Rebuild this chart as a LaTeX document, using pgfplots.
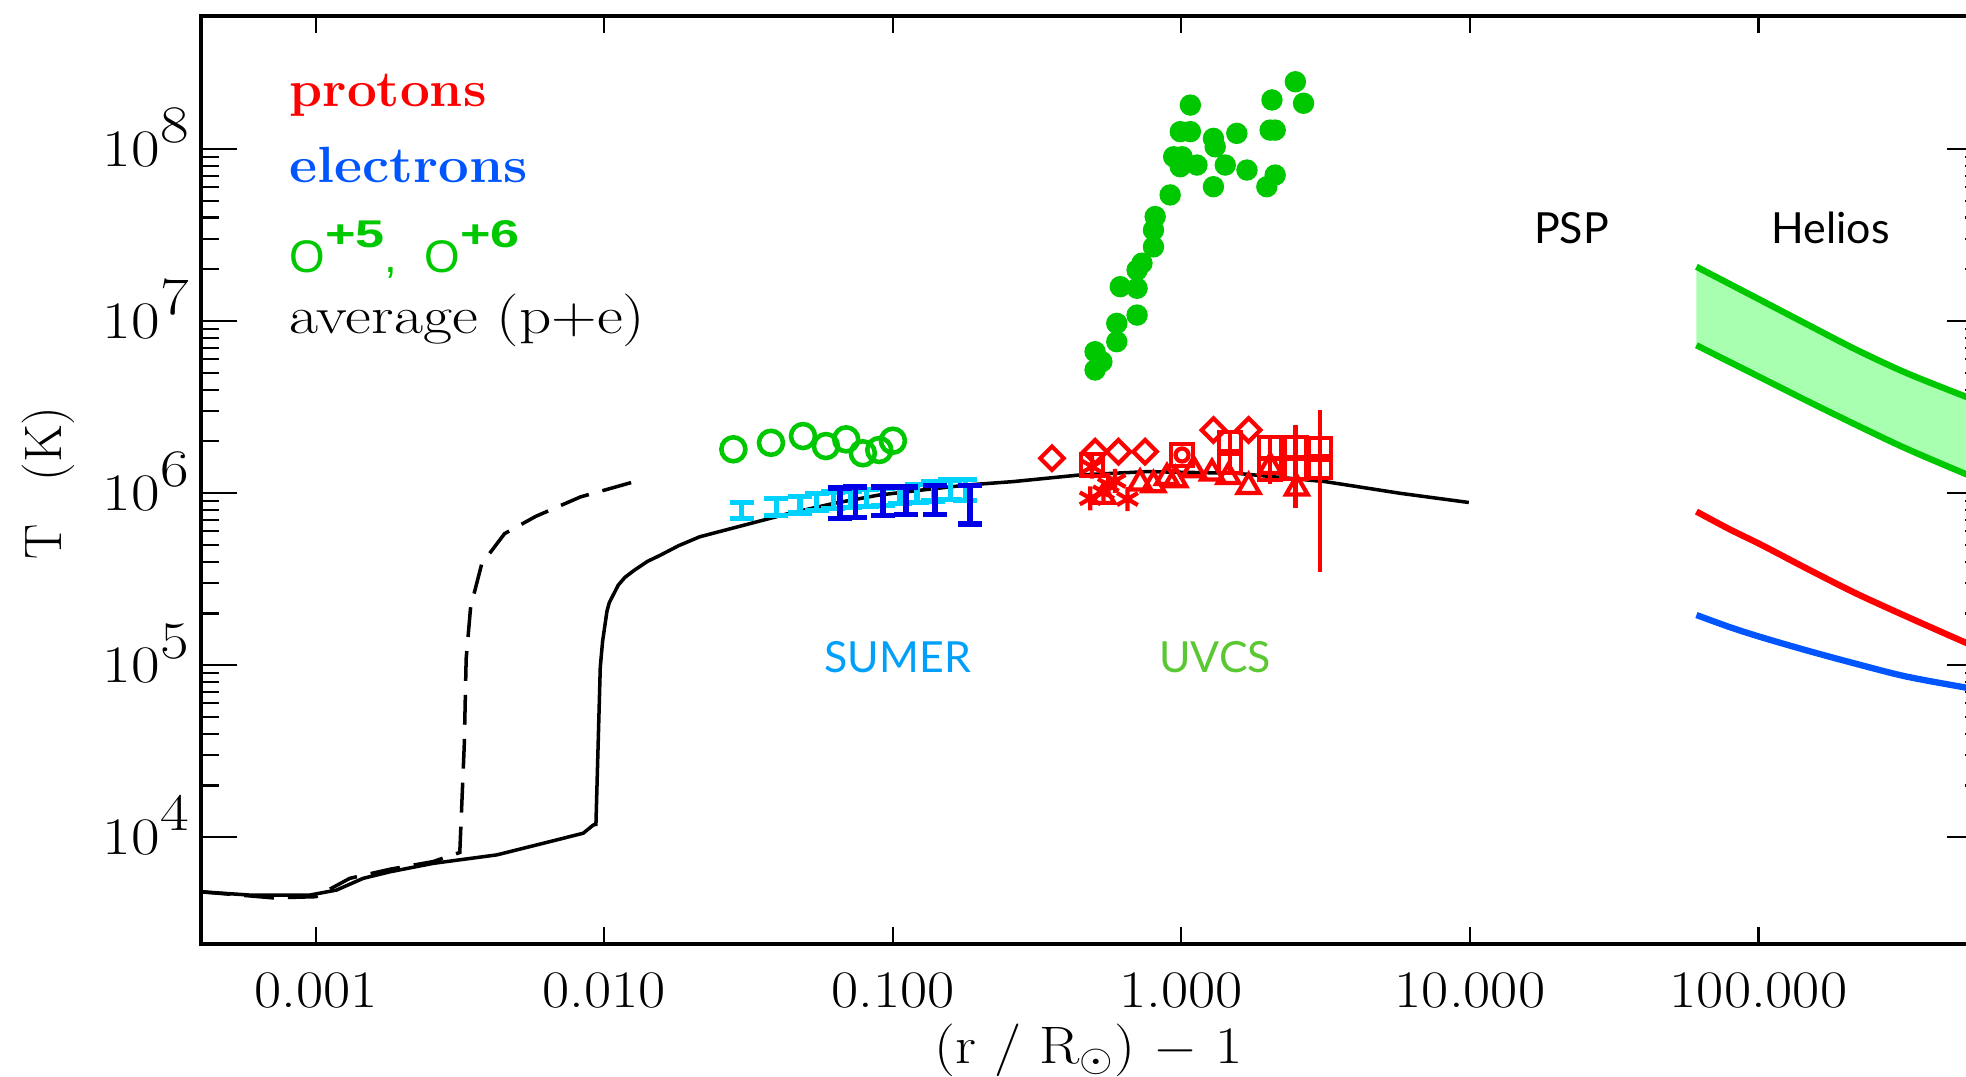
\documentclass[border=0pt]{standalone}
\usepackage{graphicx}
\usepackage{pgfplots}
\pgfplotsset{compat=1.18}
\usepgfplotslibrary{fillbetween}
\usepackage{fontspec}
\newfontfamily\lato{Lato}
\newfontfamily\arialf{Liberation Sans}
\definecolor{pred}{RGB}{255,0,0}
\definecolor{eblue}{RGB}{0,85,255}
\definecolor{ogreen}{RGB}{0,200,0}
\definecolor{cyanbar}{RGB}{0,210,255}
\definecolor{dblue}{RGB}{0,0,230}
\definecolor{bandgreen}{RGB}{168,255,176}
\definecolor{sumerc}{RGB}{0,160,250}
\definecolor{uvcsc}{RGB}{90,200,50}
\newcommand{\xs}[1]{\scalebox{1.12}[1]{#1}}
\newcommand{\ys}[1]{\scalebox{1.18}[1]{10\raisebox{0.24cm}{#1}}}
\begin{document}
\begin{tikzpicture}
\begin{axis}[
  at={(0,0)}, anchor=south west,
  scale only axis, width=17.82cm, height=9.28cm,
  xmode=log, ymode=log,
  xmin=4e-4, xmax=600, ymin=2400, ymax=5.93e8,
  xtick={0.001,0.01,0.1,1,10,100},
  xticklabels={\xs{0.001},\xs{0.010},\xs{0.100},\xs{1.000},\xs{10.000},\xs{100.000}},
  ytick={1e4,1e5,1e6,1e7,1e8},
  yticklabels={\ys{4},\ys{5},\ys{6},\ys{7},\ys{8}},
  xminorticks=false,
  major tick length=0.36cm, minor tick length=0.18cm,
  xtick style={/pgfplots/major tick length=0.17cm},
  tick style={line width=0.6pt, black},
  axis line style={line width=0.9pt},
  tick label style={font=\fontsize{15}{18}\selectfont},
  xticklabel style={yshift=-0.16cm},
  yticklabel style={yshift=0.12cm},
  xlabel={\scalebox{1.12}[1]{(r / R$_\odot$) $-$ 1}},
  ylabel={T\enspace\ (K)},
  label style={font=\fontsize{15}{18}\selectfont},
  xlabel style={at={(axis description cs:0.498,-0.115)}, anchor=center},
  ylabel style={at={(axis description cs:-0.0859,0.497)}, anchor=center},
  clip=true,
]
% average (p+e) dashed model
\addplot[black, line width=1pt, dash pattern=on 8.5pt off 4pt] table {
x y
3.98e-4 4830
7.10e-4 4450
1.0e-3 4520
1.312e-3 5780
1.81e-3 6530
2.55e-3 7230
3.155e-3 8170
3.27e-3 34500
3.32e-3 109400
3.44e-3 218000
3.76e-3 389000
4.51e-3 582000
5.78e-3 733000
8.26e-3 951000
1.265e-2 1164000
};
% average (p+e) solid model
\addplot[black, line width=1pt] table {
x y
3.98e-4 4830
5.90e-4 4620
9.53e-4 4620
1.18e-3 4940
1.46e-3 5780
1.81e-3 6310
2.55e-3 7060
4.24e-3 7910
6.47e-3 9440
8.45e-3 10570
9.16e-3 11800
9.35e-3 11900
9.68e-3 97500
9.86e-3 137700
1.021e-2 206000
1.040e-2 231000
1.117e-2 292000
1.178e-2 324000
1.268e-2 356000
1.409e-2 401000
1.567e-2 437000
1.807e-2 495000
2.14e-2 558000
3.06e-2 653000
4.38e-2 764000
6.25e-2 873000
8.93e-2 975000
0.1274 1045000
0.182 1117000
0.260 1167000
0.444 1276000
0.757 1334000
1.545 1306000
3.155 1167000
5.74 998000
9.91 883000
};
% SUMER electrons (cyan)
\addplot[draw=none, mark=none, error bars/.cd, y dir=both, y explicit relative,
  error bar style={draw=cyanbar, line width=1.5pt},
  error mark options={rotate=90, mark size=0.12cm, line width=1.5pt, draw=cyanbar}]
  table[x=x, y=y, y error=e] {
x y e
0.0299 798000 0.11
0.0395 836000 0.11
0.0476 861000 0.11
0.0545 893000 0.11
0.0622 914000 0.11
0.0711 927000 0.11
0.0811 942000 0.11
0.0927 955000 0.11
0.1059 977000 0.11
0.1211 1007000 0.12
0.138 1035000 0.13
0.158 1054000 0.13
0.178 1054000 0.14
};
% SUMER electrons (dark blue)
\addplot[draw=none, mark=none, error bars/.cd, y dir=both, y explicit relative,
  error bar style={draw=dblue, line width=1.5pt},
  error mark options={rotate=90, mark size=0.12cm, line width=1.5pt, draw=dblue}]
  table[x=x, y=y, y error=e] {
x y e
0.0656 893000 0.2
0.0740 905000 0.2
0.0925 912000 0.19
0.111 920000 0.18
0.140 927000 0.19
0.185 883000 0.25
};
% SUMER O ions (open circles)
\addplot[only marks, mark=o, mark size=0.12cm, ogreen, mark options={line width=1.3pt}] table {
x y
0.0280 1.80e6
0.0378 1.963e6
0.0488 2.148e6
0.0586 1.879e6
0.0689 2.056e6
0.0787 1.706e6
0.0897 1.782e6
0.1000 2.018e6
};
% UVCS O ions (filled circles)
\addplot[only marks, mark=*, mark size=0.1cm, ogreen, mark options={draw=ogreen, fill=ogreen}] table {
x y
0.502 5.20e6
0.502 6.64e6
0.530 5.81e6
0.597 7.59e6
0.597 9.70e6
0.702 1.084e7
0.614 1.585e7
0.702 1.552e7
0.702 1.98e7
0.730 2.17e7
0.800 2.70e7
0.800 3.38e7
0.811 4.05e7
0.914 5.41e7
0.991 7.89e7
1.005 9.02e7
0.940 9.02e7
0.991 1.262e8
1.074 1.262e8
1.074 1.80e8
1.132 8.07e7
1.291 1.153e8
1.309 1.030e8
1.291 6.04e7
1.419 8.07e7
1.556 1.233e8
1.687 7.55e7
1.977 6.04e7
2.113 7.06e7
2.06 1.928e8
2.03 1.288e8
2.113 1.288e8
2.483 2.46e8
2.65 1.845e8
};
% UVCS protons: diamonds
\addplot[only marks, mark=square, mark size=0.083cm, pred, mark options={rotate=45, line width=1.2pt}] table {
x y
0.356 1.596e6
0.502 1.742e6
0.605 1.742e6
0.748 1.742e6
1.291 2.328e6
1.710 2.328e6
};
% UVCS protons: squares
\addplot[only marks, mark=square, mark size=0.11cm, pred, mark options={line width=1.2pt},
  error bars/.cd, y dir=both, y explicit,
  error bar style={line width=1.2pt, draw=pred}, error mark=none]
  table[x=x, y=y, y error plus=ep, y error minus=em] {
x y ep em
0.490 1.459e6 0 0
1.005 1.667e6 0 0
1.476 1.950e6 3.0e5 3.0e5
1.476 1.524e6 2.5e5 2.5e5
2.023 1.837e6 3.0e5 3.0e5
2.023 1.384e6 2.5e5 2.5e5
2.483 1.837e6 0 0
2.483 1.396e6 1.09e6 5.8e5
3.027 1.807e6 1.23e6 1.46e6
3.027 1.426e6 0 0
};
% UVCS protons: triangles
\addplot[only marks, mark=triangle, mark size=0.125cm, pred, mark options={line width=1.2pt}] table {
x y
0.537 9.55e5
0.719 1.143e6
0.800 1.117e6
0.891 1.230e6
0.953 1.194e6
1.102 1.365e6
1.276 1.306e6
1.455 1.247e6
1.710 1.091e6
2.032 1.426e6
2.512 1.069e6
};
% UVCS protons: asterisks
\addplot[only marks, mark=asterisk, mark size=0.12cm, pred, mark options={line width=1.2pt}] table {
x y
0.483 9.33e5
0.537 1.012e6
0.589 1.178e6
0.650 9.25e5
0.558 1.117e6
0.490 1.426e6
};
% UVCS protons: circle
\addplot[only marks, mark=o, mark size=0.065cm, pred, mark options={line width=1.2pt}] table {
x y
1.005 1.667e6
};
% Helios band (O ions)
\addplot[name path=hup, ogreen, line width=1.8pt, smooth] table {
x y
60.95 2.070e7
79.43 1.644e7
102.3 1.318e7
147.9 9.55e6
216.3 6.87e6
324.3 5.01e6
524.8 3.63e6
600 3.35e6
};
\addplot[name path=hlo, ogreen, line width=1.8pt, smooth] table {
x y
60.95 7.24e6
79.43 5.79e6
102.3 4.68e6
147.9 3.43e6
216.3 2.51e6
324.3 1.82e6
524.8 1.288e6
600 1.175e6
};
\addplot[bandgreen, draw=none] fill between[of=hup and hlo];
% Helios protons
\addplot[pred, line width=1.8pt, smooth] table {
x y
60.95 7.82e5
79.43 6.17e5
102.3 5.01e5
147.9 3.63e5
216.3 2.63e5
324.3 1.928e5
524.8 1.349e5
600 1.23e5
};
% Helios electrons
\addplot[eblue, line width=1.8pt, smooth] table {
x y
60.95 1.959e5
79.43 1.667e5
102.3 1.455e5
147.9 1.216e5
216.3 1.023e5
324.3 8.61e4
524.8 7.41e4
600 7.13e4
};
% annotations
\node[font=\lato\fontsize{12.2}{14}\selectfont] at (axis cs:22.5,3.47e7) {PSP};
\node[font=\lato\fontsize{12.2}{14}\selectfont] at (axis cs:178,3.47e7) {Helios};
\node[font=\lato\fontsize{12.2}{14}\selectfont, text=sumerc] at (axis cs:0.104,1.117e5) {SUMER};
\node[font=\lato\fontsize{12.2}{14}\selectfont, text=uvcsc] at (axis cs:1.309,1.117e5) {UVCS};
% legend text
\node[anchor=base west, text=pred, font=\bfseries\fontsize{14.5}{16}\selectfont] at (rel axis cs:0.0427,0.902) {\scalebox{1.04}[1]{protons}};
\node[anchor=base west, text=eblue, font=\bfseries\fontsize{14.5}{16}\selectfont] at (rel axis cs:0.0427,0.821) {\scalebox{1.07}[1]{electrons}};
\node[anchor=base west, text=ogreen, font=\arialf\fontsize{13}{14}\selectfont] at (rel axis cs:0.0427,0.724) {O\raisebox{0.25cm}{\fontsize{11}{12}\selectfont\bfseries\scalebox{1.35}[1]{+5}},\hspace{0.15cm} O\raisebox{0.25cm}{\fontsize{11}{12}\selectfont\bfseries\scalebox{1.35}[1]{+6}}};
\node[anchor=base west, text=black, font=\fontsize{15}{16}\selectfont] at (rel axis cs:0.0427,0.658) {\scalebox{1.2}[1]{average (p+e)}};
\end{axis}
\pgfresetboundingbox
\useasboundingbox (-2.01,-1.32) rectangle (17.65,9.44);
\end{tikzpicture}
\end{document}
